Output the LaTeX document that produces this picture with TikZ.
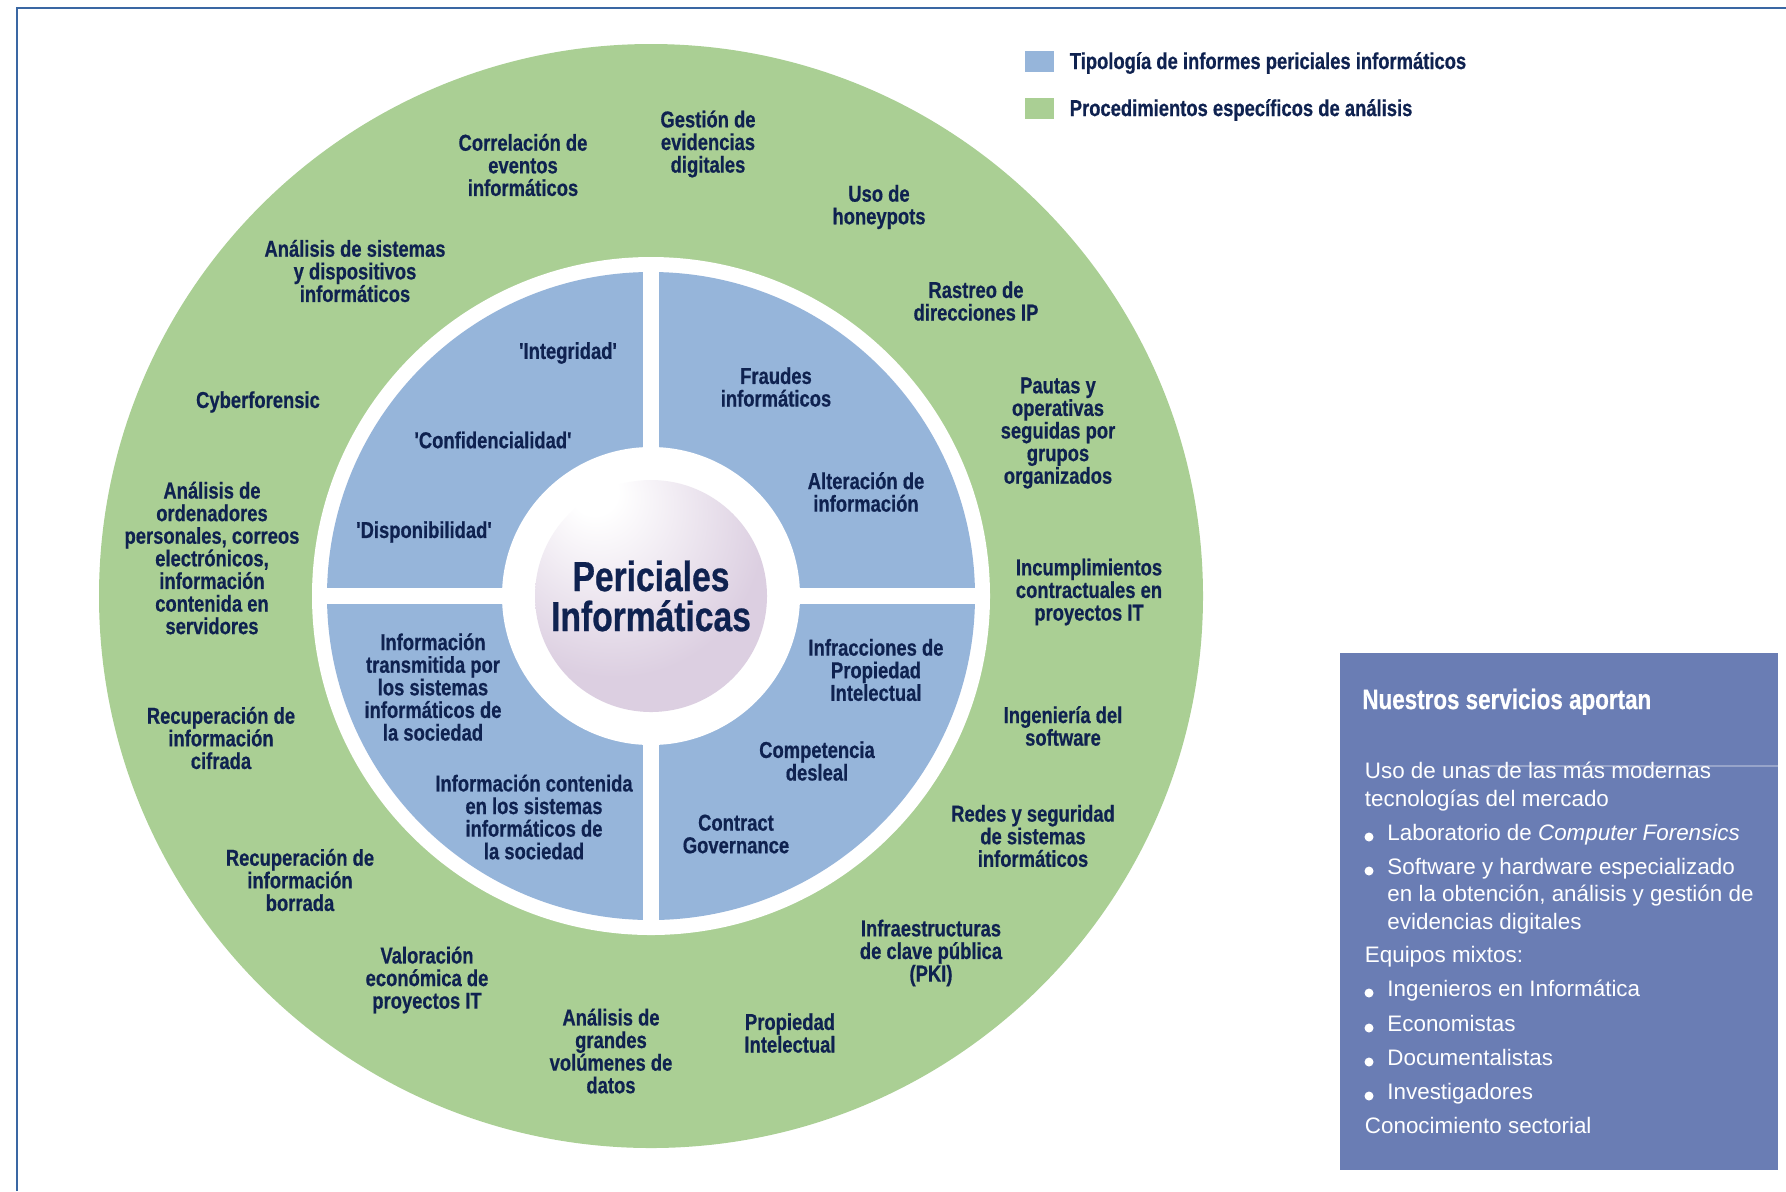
\documentclass[tikz,border=0pt]{standalone}
\usepackage{fontspec}
\setmainfont{Liberation Sans}
\newfontfamily\narrowfont[FakeStretch=0.8, BoldFeatures={FakeBold=0.6}]{Liberation Sans}
\usetikzlibrary{positioning}

\definecolor{navy}{HTML}{0F2250}
\definecolor{ringgreen}{HTML}{AACF94}
\definecolor{quadblue}{HTML}{96B5DA}
\definecolor{boxblue}{HTML}{6A7DB4}
\definecolor{frameblue}{HTML}{3A67A3}
\definecolor{spherepurple}{HTML}{DCCFE1}
\pgfdeclareradialshading{sphereshade}{\pgfpoint{-13bp}{24bp}}%
  {color(0bp)=(white); color(5bp)=(white); color(32bp)=(spherepurple); color(80bp)=(spherepurple)}

\tikzset{
  lbl/.style={font=\narrowfont\bfseries\fontsize{11.5}{11.3}\selectfont,
    text=navy, align=center, inner sep=0pt},
  hubtext/.style={font=\narrowfont\bfseries\fontsize{21}{20}\selectfont,
    text=navy, align=center, inner sep=0pt},
  legsq/.style={minimum width=14.5pt, minimum height=10.5pt, inner sep=0pt},
  boxhead/.style={font=\narrowfont\bfseries\fontsize{14}{16}\selectfont,
    text=white, anchor=base west, inner sep=0pt},
  boxline/.style={font=\fontsize{11.2}{13.5}\selectfont,
    text=white, anchor=base west, inner sep=0pt}
}

\begin{document}
\begin{tikzpicture}[x=0.5pt,y=-0.5pt]
  \useasboundingbox (0,0) rectangle (1786,1191);
  % frame
  \draw[frameblue, line width=1pt] (17,1191) -- (17,8) -- (1786,8);

  \coordinate (mid) at (651,596);
  %rings
  \fill[ringgreen] (mid) circle[radius=552];
  \fill[white] (mid) circle[radius=339];
  \fill[quadblue] (mid) circle[radius=324];
  \fill[white] ([shift={(-8.25,-332)}]mid) rectangle ([shift={(8.25,332)}]mid);
  \fill[white] ([shift={(-332,-8.25)}]mid) rectangle ([shift={(332,8.25)}]mid);
  \fill[white] (mid) circle[radius=149];
  \shade[shading=sphereshade] (mid) circle[radius=116];
  \node[hubtext] (hub) at (mid) {Periciales\\Informáticas};

  % outer labels
  \foreach \x/\y/\txt [count=\i] in
  {523/165/{Correlación de\\eventos\\informáticos},
   708/144/{Gestión de\\evidencias\\digitales},
   879/207/{Uso de\\honeypots},
   976/301/{Rastreo de\\direcciones IP},
   1058/433/{Pautas y\\operativas\\seguidas por\\grupos\\organizados},
   1089/592/{Incumplimientos\\contractuales en\\proyectos IT},
   1063/726/{Ingeniería del\\software},
   1033/836/{Redes y seguridad\\de sistemas\\informáticos},
   931/953/{Infraestructuras\\de clave pública\\(PKI)},
   790/1033/{Propiedad\\Intelectual},
   611/1051/{Análisis de\\grandes\\volúmenes de\\datos},
   427/980/{Valoración\\económica de\\proyectos IT},
   300/880/{Recuperación de\\información\\borrada},
   221/738/{Recuperación de\\información\\cifrada},
   212/558/{Análisis de\\ordenadores\\personales, correos\\electrónicos,\\información\\contenida en\\servidores},
   258/402/{Cyberforensic},
   355/271/{Análisis de sistemas\\y dispositivos\\informáticos}}
  {
    \node[lbl] (proc\i) at (\x,\y) {\txt};
  }

  % inner labels
  \foreach \x/\y/\txt [count=\i] in
  {568/353/{'Integridad'},
   493/440/{'Confidencialidad'},
   424/532/{'Disponibilidad'},
   776/387/{Fraudes\\informáticos},
   866/492/{Alteración de\\información},
   876/670/{Infracciones de\\Propiedad\\Intelectual},
   817/761/{Competencia\\desleal},
   736/834/{Contract\\Governance},
   433/687/{Información\\transmitida por\\los sistemas\\informáticos de\\la sociedad},
   534/817/{Información contenida\\en los sistemas\\informáticos de\\la sociedad}}
  {
    \node[lbl] (type\i) at (\x,\y) {\txt};
  }

  % legend
  \node[legsq, fill=quadblue] (keyblue) at (1039.5,61) {};
  \node[lbl, right=7.5pt of keyblue, yshift=-1pt] (keybluetxt) {Tipología de informes periciales informáticos};
  \node[legsq, fill=ringgreen] (keygreen) at (1039.5,108) {};
  \node[lbl, right=7.5pt of keygreen, yshift=-1pt] (keygreentxt) {Procedimientos específicos de análisis};

  % services box
  \fill[boxblue] (1339.5,653) rectangle (1778,1170);
  \draw[white!30!boxblue, line width=0.6pt] (1481,766) -- (1778,766);
  \node[boxhead] (srvhead) at (1362,709) {Nuestros servicios aportan};
  \foreach \x/\y/\dot/\txt [count=\i] in
  {1364.5/778/0/{Uso de unas de las más modernas},
   1364.5/806/0/{tecnologías del mercado},
   1387/840/1/{Laboratorio de \textit{Computer Forensics}},
   1387/874/1/{Software y hardware especializado},
   1387/901/0/{en la obtención, análisis y gestión de},
   1387/929/0/{evidencias digitales},
   1364.5/962/0/{Equipos mixtos:},
   1387/996/1/{Ingenieros en Informática},
   1387/1031/1/{Economistas},
   1387/1065/1/{Documentalistas},
   1387/1099/1/{Investigadores},
   1364.5/1133/0/{Conocimiento sectorial}}
  {
    \node[boxline] (srv\i) at (\x,\y) {\txt};
    \ifnum\dot=1
      \fill[white] (1369,\y-3) circle[radius=4.5];
    \fi
  }
\end{tikzpicture}
\end{document}
